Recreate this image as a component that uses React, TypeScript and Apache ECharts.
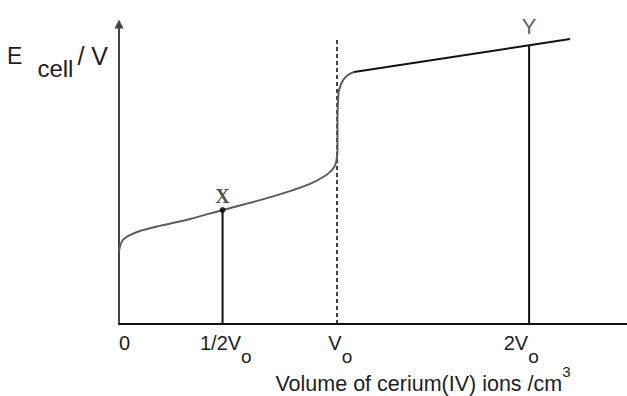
import React, { useEffect, useRef } from 'react';
import * as echarts from 'echarts';

// Tick label positions (in units of V0, as drawn) and their labels
const tickValues = [0, 0.49, 1.015, 1.845];
const tickMain = ['0', '1/2V', 'V', '2V'];
const tickSub = ['', 'o', 'o', 'o'];

// Titration curve (volume in units of V0, Ecell in arbitrary units)
const curveVolume = [0, 0.005, 0.018, 0.041, 0.096, 0.188, 0.326, 0.475, 0.647, 0.784, 0.876, 0.936, 0.977, 0.995, 1.002, 1.002, 1.005, 1.009, 1.028, 1.05, 1.078];
const curveEmf = [0.24, 0.26, 0.28, 0.293, 0.31, 0.327, 0.35, 0.38, 0.413, 0.443, 0.467, 0.49, 0.513, 0.537, 0.58, 0.68, 0.747, 0.78, 0.813, 0.83, 0.84];

// Straight part after the equivalence point
const plateauVolume = [1.078, 2.069];
const plateauEmf = [0.84, 0.95];

// Marked points
const pointNames = ['X', 'Y'];
const pointVolume = [0.475, 1.881];
const pointEmf = [0.38, 0.929];

// Equivalence line
const equivalenceVolume = 1.0;
const equivalenceTop = 0.957;

const SANS = "'Liberation Sans', Arial, sans-serif";
const SERIF = "'Liberation Serif', 'Times New Roman', serif";

export default function App() {
  const ref = useRef<HTMLDivElement>(null);
  useEffect(() => {
    const chart = echarts.init(ref.current!, null, { renderer: 'svg' });
    const txt = '#1e1e1e';
    const dropLines = pointNames.map((n, i) => ({
      type: 'line',
      name: 'drop ' + n,
      data: [[pointVolume[i], 0], [pointVolume[i], pointEmf[i]]],
      symbol: 'none',
      silent: true,
      lineStyle: { color: '#111', width: 2 },
      z: 3,
    }));
    chart.setOption({
      animation: false,
      backgroundColor: '#ffffff',
      grid: { left: 119, right: 0, top: 24, bottom: 72, containLabel: false, outerBoundsMode: 'none' },
      xAxis: {
        type: 'value',
        min: 0,
        max: 2.33,
        axisLine: { show: true, onZero: false, lineStyle: { color: '#111', width: 2 } },
        axisTick: { show: false },
        splitLine: { show: false },
        axisLabel: {
          customValues: tickValues,
          alignMinLabel: 'left',
          margin: 8,
          verticalAlign: 'top',
          formatter: (v: number) => {
            const i = tickValues.findIndex((t) => Math.abs(t - v) < 1e-6);
            if (i < 0) return '';
            return '{m|' + tickMain[i] + '}' + (tickSub[i] ? '{s|' + tickSub[i] + '}' : '');
          },
          rich: {
            m: { fontSize: 20, lineHeight: 22, fontFamily: SANS, color: txt },
            s: { fontSize: 19, lineHeight: 22, padding: [27, 0, 0, 0], fontFamily: SANS, color: txt },
          },
        },
        name: '{t|Volume of cerium(IV) ions /cm}{u|3}',
        nameLocation: 'middle',
        nameGap: 50,
        nameMoveOverlap: false,
        nameTextStyle: {
          verticalAlign: 'top',
          align: 'center',
          padding: [0, 0, 0, 100],
          rich: {
            t: { fontSize: 21.5, lineHeight: 20, fontFamily: SANS, color: txt },
            u: { fontSize: 15, lineHeight: 20, padding: [0, 0, 25, 0], fontFamily: SANS, color: txt },
          },
        },
      },
      yAxis: {
        type: 'value',
        min: 0,
        max: 1,
        axisLine: {
          show: true,
          onZero: false,
          symbol: ['none', 'triangle'],
          symbolSize: [9, 9],
          lineStyle: { color: '#444', width: 2 },
        },
        axisTick: { show: false },
        axisLabel: { show: false },
        splitLine: { show: false },
        name: '{e|E}{s|cell}{v|/ V}',
        nameLocation: 'end',
        nameGap: -27.5,
        nameMoveOverlap: false,
        nameTextStyle: {
          verticalAlign: 'top',
          align: 'center',
          padding: [0, 123, 0, 0],
          rich: {
            e: { fontSize: 23, lineHeight: 22, padding: [0, 0, 14, 0], fontFamily: SANS, color: txt },
            s: { fontSize: 24, lineHeight: 22, padding: [13, 0, 1, 15], fontFamily: SANS, color: txt },
            v: { fontSize: 25, lineHeight: 22, padding: [0, 0, 14, 4], fontFamily: SANS, color: txt },
          },
        },
      },
      series: [
        {
          type: 'line',
          name: 'equivalence',
          data: [[equivalenceVolume, 0], [equivalenceVolume, equivalenceTop]],
          symbol: 'none',
          silent: true,
          lineStyle: { color: '#111', width: 1.6, type: [4, 3] },
          z: 2,
        },
        ...dropLines,
        {
          type: 'line',
          name: 'curve',
          data: curveVolume.map((v, i) => [v, curveEmf[i]]),
          smooth: 0.3,
          symbol: 'none',
          silent: true,
          lineStyle: { color: '#5c5c5c', width: 2 },
          z: 4,
        },
        {
          type: 'line',
          name: 'plateau',
          data: plateauVolume.map((v, i) => [v, plateauEmf[i]]),
          symbol: 'none',
          silent: true,
          lineStyle: { color: '#111', width: 2 },
          z: 4,
        },
        {
          type: 'scatter',
          name: 'points',
          silent: true,
          z: 5,
          itemStyle: { color: '#000' },
          data: pointNames.map((n, i) => ({
            name: n,
            value: [pointVolume[i], pointEmf[i]],
            symbolSize: i === 0 ? 6 : 0,
            label: i === 0
              ? { show: true, position: 'top', distance: 1, formatter: '{b}', fontFamily: SERIF, fontWeight: 'bold', fontSize: 20, color: txt }
              : { show: true, position: 'top', distance: 8, formatter: '{b}', fontFamily: SANS, fontSize: 22, color: '#333' },
          })),
        },
      ],
    });
    return () => chart.dispose();
  }, []);
  return <div ref={ref} style={{ position: 'fixed', left: 0, top: 0, width: 627, height: 396 }} />;
}
